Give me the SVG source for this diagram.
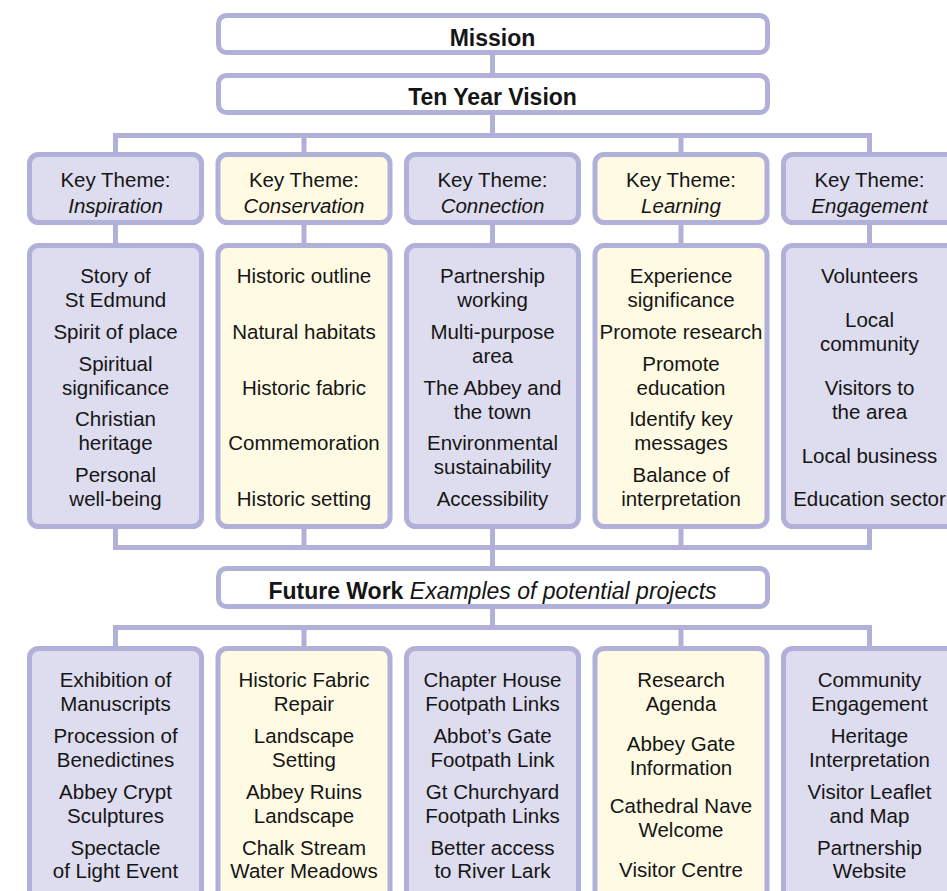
<svg xmlns="http://www.w3.org/2000/svg" width="947" height="891" viewBox="0 0 947 891">
<style>
.box{stroke:#b0b0d9;stroke-width:5}
.w{fill:#ffffff}
.p{fill:#dedcef}
.y{fill:#fefae3}
.con{stroke:#b0b0d9;stroke-width:5;fill:none;stroke-linecap:butt}
text{font-family:"Liberation Sans",Arial,Helvetica,sans-serif;font-size:20.5px;fill:#151515;text-anchor:middle}
.b{font-weight:bold;font-size:23px}
.i{font-style:italic}
</style>
<rect width="947" height="891" fill="#ffffff"/>
<g id="connectors" class="con">
  <line x1="492.5" y1="52" x2="492.5" y2="76"/>
  <line x1="492.5" y1="112" x2="492.5" y2="135.5"/>
  <line x1="113" y1="135.5" x2="872" y2="135.5"/>
  <line x1="115.5" y1="135.5" x2="115.5" y2="155"/>
  <line x1="304" y1="135.5" x2="304" y2="155"/>
  <line x1="681" y1="135.5" x2="681" y2="155"/>
  <line x1="869.5" y1="135.5" x2="869.5" y2="155"/>
  <line x1="115.5" y1="222" x2="115.5" y2="246"/>
  <line x1="304" y1="222" x2="304" y2="246"/>
  <line x1="492.5" y1="222" x2="492.5" y2="246"/>
  <line x1="681" y1="222" x2="681" y2="246"/>
  <line x1="869.5" y1="222" x2="869.5" y2="246"/>
  <line x1="115.5" y1="526" x2="115.5" y2="547.5"/>
  <line x1="304" y1="526" x2="304" y2="547.5"/>
  <line x1="492.5" y1="526" x2="492.5" y2="569"/>
  <line x1="681" y1="526" x2="681" y2="547.5"/>
  <line x1="869.5" y1="526" x2="869.5" y2="547.5"/>
  <line x1="113" y1="547.5" x2="872" y2="547.5"/>
  <line x1="492.5" y1="606" x2="492.5" y2="627.5"/>
  <line x1="113" y1="627.5" x2="872" y2="627.5"/>
  <line x1="115.5" y1="627.5" x2="115.5" y2="649"/>
  <line x1="304" y1="627.5" x2="304" y2="649"/>
  <line x1="681" y1="627.5" x2="681" y2="649"/>
  <line x1="869.5" y1="627.5" x2="869.5" y2="649"/>
</g>
<g id="mission">
  <rect class="box w" x="218.5" y="15.5" width="549" height="37" rx="8"/>
  <text class="b" x="492.5" y="46">Mission</text>
</g>
<g id="vision">
  <rect class="box w" x="218.5" y="75.5" width="549" height="37" rx="8"/>
  <text class="b" x="492.5" y="105">Ten Year Vision</text>
</g>
<g id="theme-inspiration">
  <rect class="box p" x="29.5" y="154.5" width="172" height="68" rx="9"/>
  <text x="115.5" y="187">Key Theme:</text>
  <text class="i" x="115.5" y="213">Inspiration</text>
</g>
<g id="theme-conservation">
  <rect class="box y" x="218" y="154.5" width="172" height="68" rx="9"/>
  <text x="304" y="187">Key Theme:</text>
  <text class="i" x="304" y="213">Conservation</text>
</g>
<g id="theme-connection">
  <rect class="box p" x="406.5" y="154.5" width="172" height="68" rx="9"/>
  <text x="492.5" y="187">Key Theme:</text>
  <text class="i" x="492.5" y="213">Connection</text>
</g>
<g id="theme-learning">
  <rect class="box y" x="595" y="154.5" width="172" height="68" rx="9"/>
  <text x="681" y="187">Key Theme:</text>
  <text class="i" x="681" y="213">Learning</text>
</g>
<g id="theme-engagement">
  <rect class="box p" x="783.5" y="154.5" width="172" height="68" rx="9"/>
  <text x="869.5" y="187">Key Theme:</text>
  <text class="i" x="869.5" y="213">Engagement</text>
</g>
<g id="list-inspiration">
  <rect class="box p" x="29.5" y="245.5" width="172" height="281" rx="9"/>
  <text x="115.5" y="283">Story of</text>
  <text x="115.5" y="307">St Edmund</text>
  <text x="115.5" y="339">Spirit of place</text>
  <text x="115.5" y="371">Spiritual</text>
  <text x="115.5" y="395">significance</text>
  <text x="115.5" y="426">Christian</text>
  <text x="115.5" y="450">heritage</text>
  <text x="115.5" y="482">Personal</text>
  <text x="115.5" y="506">well-being</text>
</g>
<g id="list-conservation">
  <rect class="box y" x="218" y="245.5" width="172" height="281" rx="9"/>
  <text x="304" y="283">Historic outline</text>
  <text x="304" y="339">Natural habitats</text>
  <text x="304" y="395">Historic fabric</text>
  <text x="304" y="450">Commemoration</text>
  <text x="304" y="506">Historic setting</text>
</g>
<g id="list-connection">
  <rect class="box p" x="406.5" y="245.5" width="172" height="281" rx="9"/>
  <text x="492.5" y="283">Partnership</text>
  <text x="492.5" y="307">working</text>
  <text x="492.5" y="339">Multi-purpose</text>
  <text x="492.5" y="363">area</text>
  <text x="492.5" y="395">The Abbey and</text>
  <text x="492.5" y="419">the town</text>
  <text x="492.5" y="450">Environmental</text>
  <text x="492.5" y="474">sustainability</text>
  <text x="492.5" y="506">Accessibility</text>
</g>
<g id="list-learning">
  <rect class="box y" x="595" y="245.5" width="172" height="281" rx="9"/>
  <text x="681" y="283">Experience</text>
  <text x="681" y="307">significance</text>
  <text x="681" y="339">Promote research</text>
  <text x="681" y="371">Promote</text>
  <text x="681" y="395">education</text>
  <text x="681" y="426">Identify key</text>
  <text x="681" y="450">messages</text>
  <text x="681" y="482">Balance of</text>
  <text x="681" y="506">interpretation</text>
</g>
<g id="list-engagement">
  <rect class="box p" x="783.5" y="245.5" width="172" height="281" rx="9"/>
  <text x="869.5" y="283">Volunteers</text>
  <text x="869.5" y="327">Local</text>
  <text x="869.5" y="351">community</text>
  <text x="869.5" y="395">Visitors to</text>
  <text x="869.5" y="419">the area</text>
  <text x="869.5" y="463">Local business</text>
  <text x="869.5" y="506">Education sector</text>
</g>
<g id="future-work">
  <rect class="box w" x="218.5" y="568.5" width="549" height="38" rx="8"/>
  <text x="492.5" y="599" style="font-size:23px"><tspan font-weight="bold">Future Work</tspan> <tspan font-style="italic">Examples of potential projects</tspan></text>
</g>
<g id="projects-inspiration">
  <rect class="box p" x="29.5" y="648.5" width="172" height="260" rx="9"/>
  <text x="115.5" y="687">Exhibition of</text>
  <text x="115.5" y="711">Manuscripts</text>
  <text x="115.5" y="743">Procession of</text>
  <text x="115.5" y="767">Benedictines</text>
  <text x="115.5" y="799">Abbey Crypt</text>
  <text x="115.5" y="823">Sculptures</text>
  <text x="115.5" y="855">Spectacle</text>
  <text x="115.5" y="878">of Light Event</text>
</g>
<g id="projects-conservation">
  <rect class="box y" x="218" y="648.5" width="172" height="260" rx="9"/>
  <text x="304" y="687">Historic Fabric</text>
  <text x="304" y="711">Repair</text>
  <text x="304" y="743">Landscape</text>
  <text x="304" y="767">Setting</text>
  <text x="304" y="799">Abbey Ruins</text>
  <text x="304" y="823">Landscape</text>
  <text x="304" y="855">Chalk Stream</text>
  <text x="304" y="878">Water Meadows</text>
</g>
<g id="projects-connection">
  <rect class="box p" x="406.5" y="648.5" width="172" height="260" rx="9"/>
  <text x="492.5" y="687">Chapter House</text>
  <text x="492.5" y="711">Footpath Links</text>
  <text x="492.5" y="743">Abbot’s Gate</text>
  <text x="492.5" y="767">Footpath Link</text>
  <text x="492.5" y="799">Gt Churchyard</text>
  <text x="492.5" y="823">Footpath Links</text>
  <text x="492.5" y="855">Better access</text>
  <text x="492.5" y="878">to River Lark</text>
</g>
<g id="projects-learning">
  <rect class="box y" x="595" y="648.5" width="172" height="260" rx="9"/>
  <text x="681" y="687">Research</text>
  <text x="681" y="711">Agenda</text>
  <text x="681" y="751">Abbey Gate</text>
  <text x="681" y="775">Information</text>
  <text x="681" y="813">Cathedral Nave</text>
  <text x="681" y="837">Welcome</text>
  <text x="681" y="877">Visitor Centre</text>
</g>
<g id="projects-engagement">
  <rect class="box p" x="783.5" y="648.5" width="172" height="260" rx="9"/>
  <text x="869.5" y="687">Community</text>
  <text x="869.5" y="711">Engagement</text>
  <text x="869.5" y="743">Heritage</text>
  <text x="869.5" y="767">Interpretation</text>
  <text x="869.5" y="799">Visitor Leaflet</text>
  <text x="869.5" y="823">and Map</text>
  <text x="869.5" y="855">Partnership</text>
  <text x="869.5" y="878">Website</text>
</g>
</svg>
